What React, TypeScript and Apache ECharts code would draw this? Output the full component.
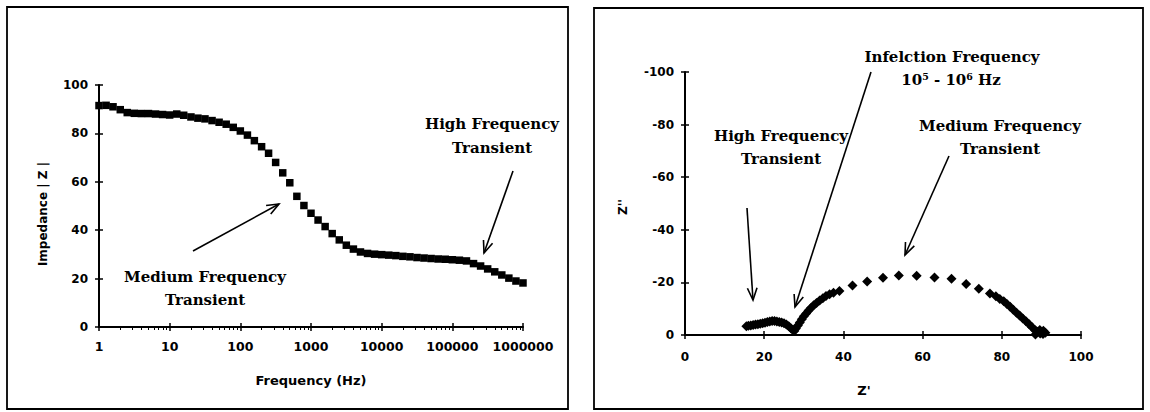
import React, { useEffect, useRef } from "react";
import * as echarts from "echarts";

// Bode magnitude: frequency (Hz) and impedance |Z|
const freqHz = [
  1, 1.26, 1.58, 2, 2.51, 3.16, 3.98, 5.01, 6.31, 7.94,
  10, 12.6, 15.8, 20, 25.1, 31.6, 39.8, 50.1, 63.1, 79.4,
  100, 126, 158, 200, 251, 316, 398, 501, 631, 794,
  1000, 1259, 1585, 1995, 2512, 3162, 3981, 5012, 6310, 7943,
  10000, 12589, 15849, 19953, 25119, 31623, 39811, 50119, 63096, 79433,
  100000, 125893, 158489, 199526, 251189, 316228, 398107, 501187, 630957, 794328,
  1000000,
];
const impedance = [
  91.5, 91.6, 91.0, 89.8, 88.6, 88.3, 88.2, 88.2, 88.0, 87.8,
  87.6, 88.0, 87.5, 86.8, 86.3, 86.0, 85.3, 84.6, 83.8, 82.5,
  81.0, 79.3, 77.0, 74.5, 71.8, 68.0, 63.7, 59.6, 54.0, 50.2,
  47.0, 44.2, 41.5, 38.6, 36.0, 33.8, 32.2, 31.0, 30.4, 30.1,
  29.9, 29.7, 29.5, 29.2, 29.0, 28.7, 28.5, 28.3, 28.1, 28.0,
  27.8, 27.6, 27.3, 26.2, 25.2, 24.0, 22.8, 21.5, 20.2, 19.0,
  18.2,
];

// Nyquist plot: real part Z' and imaginary part Z''
const zReal = [
  15.5, 16.0, 16.6, 17.2, 17.8, 18.4, 19.0, 19.6, 20.2, 20.8,
  21.4, 22.0, 22.6, 23.2, 23.8, 24.4, 25.0, 25.6, 26.2, 26.8,
  27.3, 27.6, 28.0, 28.5, 29.0, 29.5, 30.0, 30.6, 31.2, 31.8,
  32.5, 33.2, 34.0, 34.8, 35.6, 36.5, 37.5, 39.0, 42.3, 46.0,
  50.0, 54.0, 58.5, 63.0, 67.3, 71.0, 74.2, 77.0, 78.5, 79.5,
  80.5, 81.3, 82.1, 82.9, 83.7, 84.5, 85.3, 86.1, 86.9, 87.6,
  88.3, 89.0, 89.7, 90.4, 91.0, 90.5, 89.6, 88.8, 88.5,
];
const zImag = [
  -3.3, -3.5, -3.6, -3.8, -4.0, -4.1, -4.3, -4.5, -4.7, -4.9,
  -5.1, -5.3, -5.3, -5.1, -4.9, -4.8, -4.5, -4.0, -3.3, -2.5,
  -1.8, -1.5, -2.5, -3.6, -4.8, -6.0, -7.1, -8.2, -9.3, -10.3,
  -11.3, -12.2, -13.1, -14.0, -14.8, -15.5, -16.1, -16.7, -18.8, -20.3,
  -21.8, -22.6, -22.5, -21.9, -21.4, -19.4, -17.6, -15.8, -14.7, -13.7,
  -12.8, -11.8, -10.7, -9.6, -8.5, -7.4, -6.3, -5.2, -4.1, -3.0,
  -2.0, -1.2, -0.6, -0.4, -0.9, -1.6, -1.9, -1.3, -0.2,
];

const freqTicks = ["1", "10", "100", "1000", "10000", "100000", "1000000"];

const SANS = "DejaVu Sans";
const SERIF = "DejaVu Serif";

function arrow(x1: number, y1: number, x2: number, y2: number) {
  const a = Math.atan2(y2 - y1, x2 - x1);
  const L = 13;
  const phi = 0.38;
  const style = { stroke: "#000", lineWidth: 1.6, fill: null };
  return [
    { type: "line", shape: { x1, y1, x2, y2 }, style },
    {
      type: "polyline",
      shape: {
        points: [
          [x2 - L * Math.cos(a - phi), y2 - L * Math.sin(a - phi)],
          [x2, y2],
          [x2 - L * Math.cos(a + phi), y2 - L * Math.sin(a + phi)],
        ],
      },
      style,
    },
  ];
}

function label(x: number, y: number, text: string) {
  return {
    type: "text",
    x,
    y,
    style: {
      text,
      fill: "#000",
      font: `bold 15px "${SERIF}"`,
      textAlign: "center",
      textVerticalAlign: "middle",
    },
  };
}

function axisName(x: number, y: number, text: string, rotation = 0, size = 13) {
  return {
    type: "text",
    x,
    y,
    rotation,
    style: {
      text,
      fill: "#000",
      font: `bold ${size}px "${SANS}"`,
      textAlign: "center",
      textVerticalAlign: "middle",
    },
  };
}

const axisLine = { show: true, lineStyle: { color: "#000", width: 2 } };
const tickOut = { show: true, length: 4, lineStyle: { color: "#000", width: 1.5 } };
const tickIn = { show: true, inside: true, length: 4, lineStyle: { color: "#000", width: 1.5 } };
const labelStyle = { color: "#000", fontFamily: SANS, fontWeight: "bold", fontSize: 12 };

export default function App() {
  const ref = useRef<HTMLDivElement>(null);

  useEffect(() => {
    if (!ref.current) return;
    const chart = echarts.init(ref.current, null, { renderer: "svg" });

    const bode = freqHz.map((f, i) => [f, impedance[i]]);
    const nyquist = zReal.map((x, i) => [x, zImag[i]]);

    chart.setOption({
      animation: false,
      backgroundColor: "#fff",
      grid: [
        { left: 99, top: 85, width: 424, height: 242 },
        { left: 685, top: 72, width: 396, height: 263 },
      ],
      xAxis: [
        {
          type: "log",
          gridIndex: 0,
          logBase: 10,
          min: 1,
          max: 1000000,
          splitNumber: 6,
          axisLine,
          axisTick: tickOut,
          minorTick: { show: true, splitNumber: 9, length: 3, lineStyle: { color: "#000", width: 1 } },
          splitLine: { show: false },
          axisLabel: {
            ...labelStyle,
            fontSize: 12.5,
            margin: 13,
            formatter: (v: number) => freqTicks[Math.round(Math.log10(v))] ?? "",
          },
        },
        {
          type: "log",
          gridIndex: 0,
          logBase: 10,
          min: 1,
          max: 1000000,
          splitNumber: 6,
          position: "bottom",
          axisLine: { show: false },
          axisTick: tickIn,
          axisLabel: { show: false },
          splitLine: { show: false },
        },
        {
          type: "value",
          gridIndex: 1,
          min: 0,
          max: 100,
          interval: 20,
          axisLine: { ...axisLine, onZero: false },
          axisTick: tickOut,
          splitLine: { show: false },
          axisLabel: { ...labelStyle, margin: 16 },
        },
        {
          type: "value",
          gridIndex: 1,
          min: 0,
          max: 100,
          interval: 20,
          position: "bottom",
          axisLine: { show: false },
          axisTick: tickIn,
          axisLabel: { show: false },
          splitLine: { show: false },
        },
      ],
      yAxis: [
        {
          type: "value",
          gridIndex: 0,
          min: 0,
          max: 100,
          interval: 20,
          axisLine,
          axisTick: tickOut,
          splitLine: { show: false },
          axisLabel: { ...labelStyle, margin: 11 },
        },
        {
          type: "value",
          gridIndex: 0,
          min: 0,
          max: 100,
          interval: 20,
          position: "left",
          axisLine: { show: false },
          axisTick: tickIn,
          axisLabel: { show: false },
          splitLine: { show: false },
        },
        {
          type: "value",
          gridIndex: 1,
          min: -100,
          max: 0,
          interval: 20,
          inverse: true,
          axisLine: { ...axisLine, onZero: false },
          axisTick: tickOut,
          splitLine: { show: false },
          axisLabel: { ...labelStyle, margin: 11 },
        },
        {
          type: "value",
          gridIndex: 1,
          min: -100,
          max: 0,
          interval: 20,
          inverse: true,
          position: "left",
          axisLine: { show: false },
          axisTick: tickIn,
          axisLabel: { show: false },
          splitLine: { show: false },
        },
      ],
      series: [
        {
          type: "scatter",
          xAxisIndex: 0,
          yAxisIndex: 0,
          data: bode,
          symbol: "rect",
          symbolSize: 7.5,
          itemStyle: { color: "#000", opacity: 1 },
        },
        {
          type: "scatter",
          xAxisIndex: 2,
          yAxisIndex: 2,
          data: nyquist,
          symbol: "diamond",
          symbolSize: 10,
          itemStyle: { color: "#000", opacity: 1 },
        },
      ],
      graphic: [
        {
          type: "rect",
          shape: { x: 7, y: 7, width: 561, height: 402 },
          style: { fill: null, stroke: "#000", lineWidth: 1.8 },
        },
        {
          type: "rect",
          shape: { x: 594, y: 8, width: 549, height: 401 },
          style: { fill: null, stroke: "#000", lineWidth: 1.8 },
        },
        axisName(43, 214, "Impedance | Z |", Math.PI / 2, 12),
        axisName(311, 380, "Frequency (Hz)"),
        axisName(623, 207, "Z''", Math.PI / 2, 12),
        axisName(864, 390, "Z'"),
        label(205, 277, "Medium Frequency"),
        label(205, 300, "Transient"),
        label(492, 124, "High Frequency"),
        label(492, 148, "Transient"),
        ...arrow(193, 251, 279, 204),
        ...arrow(513, 171, 484, 253),
        label(952, 57, "Infelction Frequency"),
        label(951, 80, "10\u2075 - 10\u2076 Hz"),
        label(781, 136, "High Frequency"),
        label(781, 159, "Transient"),
        label(1000, 126, "Medium Frequency"),
        label(1000, 149, "Transient"),
        ...arrow(747, 208, 753, 300),
        ...arrow(871, 72, 795, 307),
        ...arrow(949, 156, 905, 255),
      ],
    });

    return () => chart.dispose();
  }, []);

  return (
    <div
      ref={ref}
      style={{ position: "fixed", left: 0, top: 0, width: 1150, height: 412 }}
    />
  );
}
